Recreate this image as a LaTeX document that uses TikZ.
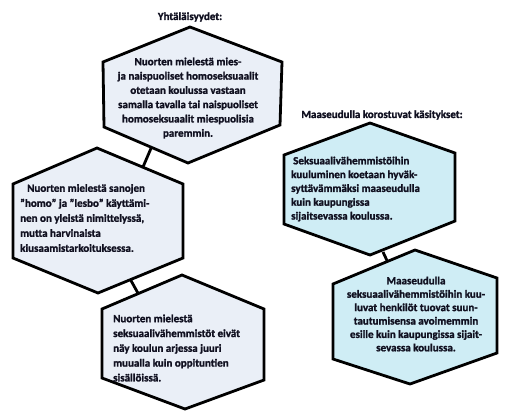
\documentclass[tikz,border=0pt]{standalone}
\usepackage{fontspec}
\setmainfont{Carlito}[BoldFont={Carlito Bold}, BoldFeatures={FakeBold=1.6}]
\definecolor{txt}{HTML}{101020}
\definecolor{hexgray}{HTML}{EAEFF7}
\definecolor{hexcyan}{HTML}{CFEDF5}
\tikzset{
  hexshape/.style={draw=black, line width=2.8pt, line join=miter},
  linkline/.style={draw=black, line width=2.8pt},
  hextext/.style={inner sep=0pt, text=txt, font=\fontsize{11}{#1}\selectfont\bfseries},
  titletext/.style={inner sep=0pt, text=txt, font=\fontsize{11}{13}\selectfont\bfseries}
}
\begin{document}
\begin{tikzpicture}[x=1pt,y=-1pt]
\useasboundingbox (0,0) rectangle (505,410);
% connector end points
\coordinate (c12a) at (152,146);
\coordinate (c12b) at (143,167);
\coordinate (c23a) at (129,277);
\coordinate (c23b) at (139,295);
\coordinate (c45a) at (383,252);
\coordinate (c45b) at (390,267);
\draw[linkline] (c12a) -- (c12b);
\draw[linkline] (c23a) -- (c23b);
\draw[linkline] (c45a) -- (c45b);
% hexagon 1
\draw[hexshape, fill=hexgray] (190,27) -- (282,62) -- (280,125) -- (188,163) -- (104,127) -- (103,62) -- cycle;
% hexagon 2
\draw[hexshape, fill=hexgray] (97,148) -- (183,184) -- (183,258) -- (98,293) -- (13,258) -- (13,184) -- cycle;
% hexagon 3
\draw[hexshape, fill=hexgray] (182,275) -- (264,309) -- (264,380) -- (185,409) -- (102,378) -- (102,309) -- cycle;
% hexagon 4
\draw[hexshape, fill=hexcyan] (370,123) -- (455,153) -- (455,221) -- (370,255) -- (284,224) -- (284,155) -- cycle;
% hexagon 5
\draw[hexshape, fill=hexcyan] (415,250) -- (497,278) -- (497,353) -- (410,384) -- (333,359) -- (333,284) -- cycle;
% titles
\node[titletext] (t1) at (190,17) {Yhtäläisyydet:};
\node[titletext] (t2) at (382,115) {Maaseudulla korostuvat käsitykset:};
% texts
\node[hextext=14.3, align=center] (n1) at (188,98) {Nuorten mielestä mies-\\ja naispuoliset homoseksuaalit\\otetaan koulussa vastaan\\samalla tavalla tai naispuoliset\\homoseksuaalit miespuolisia\\paremmin.};
\node[hextext=15, align=left, anchor=west] (n2) at (20,218) {\hspace{7pt}Nuorten mielestä sanojen\\"homo" ja "lesbo" käyttämi-\\nen on yleistä nimittelyssä,\\mutta harvinaista\\kiusaamistarkoituksessa.};
\node[hextext=14.8, align=left, anchor=west] (n3) at (113,348) {Nuorten mielestä\\seksuaalivähemmistöt eivät\\näy koulun arjessa juuri\\muualla kuin oppituntien\\sisällöissä.};
\node[hextext=13.8, align=left, anchor=west] (n4) at (291,189) {\hspace{2pt}Seksuaalivähemmistöihin\\kuuluminen koetaan hyväk-\\syttävämmäksi maaseudulla\\kuin kaupungissa\\sijaitsevassa koulussa.};
\node[hextext=13.4, align=center] (n5) at (416,314) {Maaseudulla\\seksuaalivähemmistöihin kuu-\\luvat henkilöt tuovat suun-\\tautumisensa avoimemmin\\esille kuin kaupungissa sijait-\\sevassa koulussa.};
\end{tikzpicture}
\end{document}
